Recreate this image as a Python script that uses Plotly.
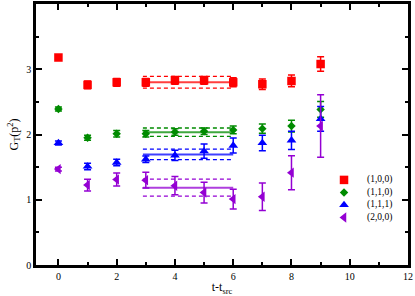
import plotly.graph_objects as go

t = [0, 1, 2, 3, 4, 5, 6, 7, 8, 9]

labels = ["(1,0,0)", "(1,1,0)", "(1,1,1)", "(2,0,0)"]

g100 = [3.18, 2.76, 2.80, 2.80, 2.83, 2.83, 2.80, 2.77, 2.82, 3.08]
e100 = [0.03, 0.06, 0.06, 0.06, 0.06, 0.06, 0.07, 0.08, 0.09, 0.11]

g110 = [2.39, 1.95, 2.01, 2.01, 2.04, 2.05, 2.07, 2.09, 2.13, 2.385]
e110 = [0.03, 0.04, 0.05, 0.05, 0.05, 0.05, 0.06, 0.07, 0.09, 0.12]

g111 = [1.87, 1.51, 1.57, 1.62, 1.68, 1.745, 1.83, 1.87, 1.91, 2.24]
e111 = [0.03, 0.05, 0.05, 0.05, 0.08, 0.11, 0.115, 0.12, 0.14, 0.19]

g200 = [1.47, 1.225, 1.31, 1.30, 1.215, 1.11, 1.01, 1.045, 1.415, 2.13]
e200 = [0.03, 0.09, 0.10, 0.12, 0.14, 0.16, 0.15, 0.21, 0.26, 0.48]

fit_t = [2.9, 6.0]
fit_mid = [2.80, 2.035, 1.695, 1.185]
fit_err = [0.09, 0.065, 0.08, 0.13]

values = [g100, g110, g111, g200]
errors = [e100, e110, e111, e200]
colors = ["#ff0000", "#008b00", "#0000ff", "#9400d3"]
symbols = ["square", "diamond", "triangle-up", "triangle-left"]
sizes = [8.5, 6.5, 8.5, 9]

# legend layout (paper fractions)
leg_marker_x = 0.828
leg_text_x = 0.885
leg_y0 = 0.326
leg_dy = 0.048

font = "Liberation Serif, Times New Roman, serif"

fig = go.Figure()

for k in range(4):
    c = colors[k]
    m = fit_mid[k]
    e = fit_err[k]
    fig.add_trace(go.Scatter(x=fit_t, y=[m, m], mode="lines",
                             line=dict(color=c, width=2), opacity=0.75,
                             showlegend=False, hoverinfo="skip"))
    for s in (m + e, m - e):
        fig.add_trace(go.Scatter(x=fit_t, y=[s, s], mode="lines",
                                 line=dict(color=c, width=1.3, dash="4px,3px"),
                                 showlegend=False, hoverinfo="skip"))

for k in range(4):
    fig.add_trace(go.Scatter(
        x=t, y=values[k], mode="markers", name=labels[k], showlegend=False,
        marker=dict(symbol=symbols[k], color=colors[k], size=sizes[k], line=dict(width=0)),
        error_y=dict(type="data", array=errors[k], color=colors[k],
                     thickness=1.5, width=3.5),
    ))

# manual legend on a hidden overlay axis pair
for k in range(4):
    yy = leg_y0 - k * leg_dy
    fig.add_trace(go.Scatter(
        x=[leg_marker_x], y=[yy], xaxis="x2", yaxis="y2", mode="markers",
        marker=dict(symbol=symbols[k], color=colors[k], size=sizes[k], line=dict(width=0)),
        showlegend=False, hoverinfo="skip"))
    fig.add_annotation(x=leg_text_x, y=yy, xref="x2", yref="y2", text=labels[k],
                       showarrow=False, xanchor="left", yanchor="middle",
                       font=dict(size=9.5, family=font, color="black"))

axis_common = dict(
    ticks="inside", ticklen=6, tickwidth=2, tickcolor="#000000",
    tickfont=dict(size=10, family=font, color="#000000"),
    showline=True, linecolor="#000000", linewidth=2.5, mirror="allticks",
    showgrid=False, zeroline=False,
)

fig.update_layout(
    template="none",
    width=415, height=296,
    margin=dict(l=36, r=7, t=4, b=31),
    paper_bgcolor="white", plot_bgcolor="white",
    font=dict(family=font, size=10, color="#000000"),
    showlegend=False,
    xaxis=dict(range=[-0.77, 12], tickmode="array",
               tickvals=[0, 2, 4, 6, 8, 10, 12],
               minor=dict(dtick=1, ticks="inside", ticklen=3.5, tickwidth=2,
                          tickcolor="#000000", showgrid=False),
               title=dict(text="t-t<sub>src</sub>", font=dict(size=12, family=font, color="#000000"), standoff=3),
               **axis_common),
    yaxis=dict(range=[0, 4], tickmode="array", tickvals=[0, 1, 2, 3, 4],
               minor=dict(dtick=0.5, ticks="inside", ticklen=3.5, tickwidth=2,
                          tickcolor="#000000", showgrid=False),
               title=dict(text="G<sub>T</sub>(p<sup>2</sup>)", font=dict(size=12, family=font, color="#000000"), standoff=6),
               **axis_common),
    xaxis2=dict(overlaying="x", range=[0, 1], visible=False, fixedrange=True),
    yaxis2=dict(overlaying="y", range=[0, 1], visible=False, fixedrange=True),
)

fig.write_html("out.html", config={"displayModeBar": False},
               post_script="document.body.style.margin='0px';document.body.style.padding='0px';")
